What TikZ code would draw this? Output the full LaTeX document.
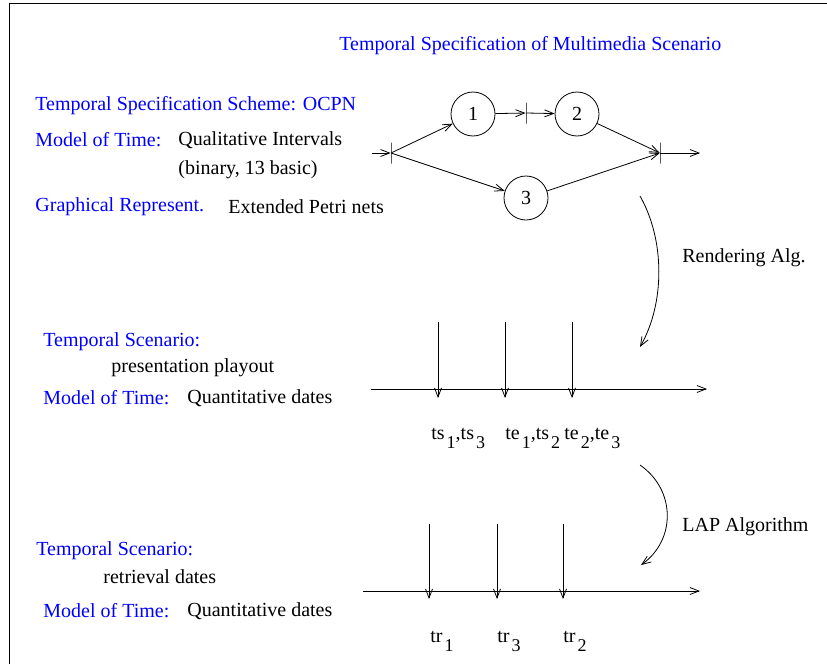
\documentclass[tikz,border=0pt]{standalone}
\usepackage{fontspec}
\setmainfont{Liberation Serif}
\usetikzlibrary{arrows.meta}
\definecolor{figblue}{RGB}{0,0,255}
\newcommand{\lowd}[1]{\kern2pt\raisebox{-9pt}{\fontsize{18}{20}\selectfont#1}}

\begin{document}
\begin{tikzpicture}[x=1pt,y=-1pt,line width=.8pt,font=\fontsize{20}{24}\selectfont,
  >={Straight Barb[length=9pt,width=7pt]},
  lbl/.style={anchor=west,inner sep=0pt},blu/.style={lbl,text=figblue},
  tim/.style={anchor=base west,inner sep=0pt},
  place/.style={draw,circle,minimum size=44pt,inner sep=0pt},
  trans/.style={draw,minimum width=0pt,minimum height=21pt,inner sep=0pt}]
\useasboundingbox (0,0) rectangle (827,664);
% frame
\coordinate (F1) at (9,3);\coordinate (F2) at (827,3);\coordinate (F3) at (9,664);
\draw (F3)--(F1)--(F2);
% texts, upper part
\node[blu] (ttl) at (339,46) {Temporal Specification of Multimedia Scenario};
\node[blu] (sch) at (35,106) {Temporal Specification Scheme: OCPN};
\node[blu] (mt1) at (35,140) {Model of Time:};\node[lbl] (qi) at (178,140) {Qualitative Intervals};
\node[lbl] (bin) at (178,170) {(binary, 13 basic)};
\node[blu] (gr) at (35,207) {Graphical Represent.};\node[lbl] (epn) at (228,207) {Extended Petri nets};
% Petri net
\coordinate (I) at (372,153);\coordinate (O) at (700,153);
\node[trans] (T0) at (391,153) {};\node[trans] (T1) at (526,113) {};\node[trans] (T2) at (660,153) {};
\node[place] (P1) at (473,114) {1};\node[place] (P2) at (577,114) {2};\node[place] (P3) at (526,198) {3};
\draw[->] (I)--(T0);\draw[->] (T0)--(P1);\draw[->] (T0)--(P3);
\draw[->] (P1)--(T1);\draw[->] (T1)--(P2);
\draw[->] (P2)--(T2);\draw[->] (P3)--(T2);\draw[->] (T2)--(O);
% rendering
\coordinate (R1) at (640,196);\coordinate (R2) at (640,347);
\draw[->] (R1) .. controls (665,240) and (665,303) .. (R2);
\node[lbl] (ra) at (682,258) {Rendering Alg.};
% presentation playout
\node[blu] (ts1) at (43,342) {Temporal Scenario:};\node[lbl] (pp) at (111,368) {presentation playout};
\node[blu] (mt2) at (43,398) {Model of Time:};\node[lbl] (qd1) at (187,398) {Quantitative dates};
\coordinate (A1) at (371,389);\coordinate (A2) at (707,389);
\draw[->] (A1)--(A2);
\foreach \x/\n in {438/a,505/b,572/c}{
  \coordinate (U\n) at (\x,322);\coordinate (D\n) at (\x,398);
  \draw[->] (U\n)--(D\n);}
\node[tim] (la) at (431,439) {ts\lowd{1},ts\lowd{3}};
\node[tim] (lb) at (505,439) {te\lowd{1},ts\lowd{2}};
\node[tim] (lc) at (564,439) {te\lowd{2},te\lowd{3}};
% LAP
\coordinate (L1) at (640,465);\coordinate (L2) at (641,565);
\draw[->] (L1) .. controls (676,490) and (676,540) .. (L2);
\node[lbl] (lap) at (682,527) {LAP Algorithm};
% retrieval dates
\node[blu] (ts2) at (36,551) {Temporal Scenario:};\node[lbl] (rd) at (103,577) {retrieval dates};
\node[blu] (mt3) at (43,611) {Model of Time:};\node[lbl] (qd2) at (187,611) {Quantitative dates};
\coordinate (B1) at (363,591);\coordinate (B2) at (700,591);
\draw[->] (B1)--(B2);
\foreach \x/\n in {429/d,497/e,563/f}{
  \coordinate (U\n) at (\x,524);\coordinate (D\n) at (\x,599);
  \draw[->] (U\n)--(D\n);}
\node[tim] (ld) at (430,642) {tr\lowd{1}};
\node[tim] (le) at (497,642) {tr\lowd{3}};
\node[tim] (lf) at (563,642) {tr\lowd{2}};
\end{tikzpicture}
\end{document}
